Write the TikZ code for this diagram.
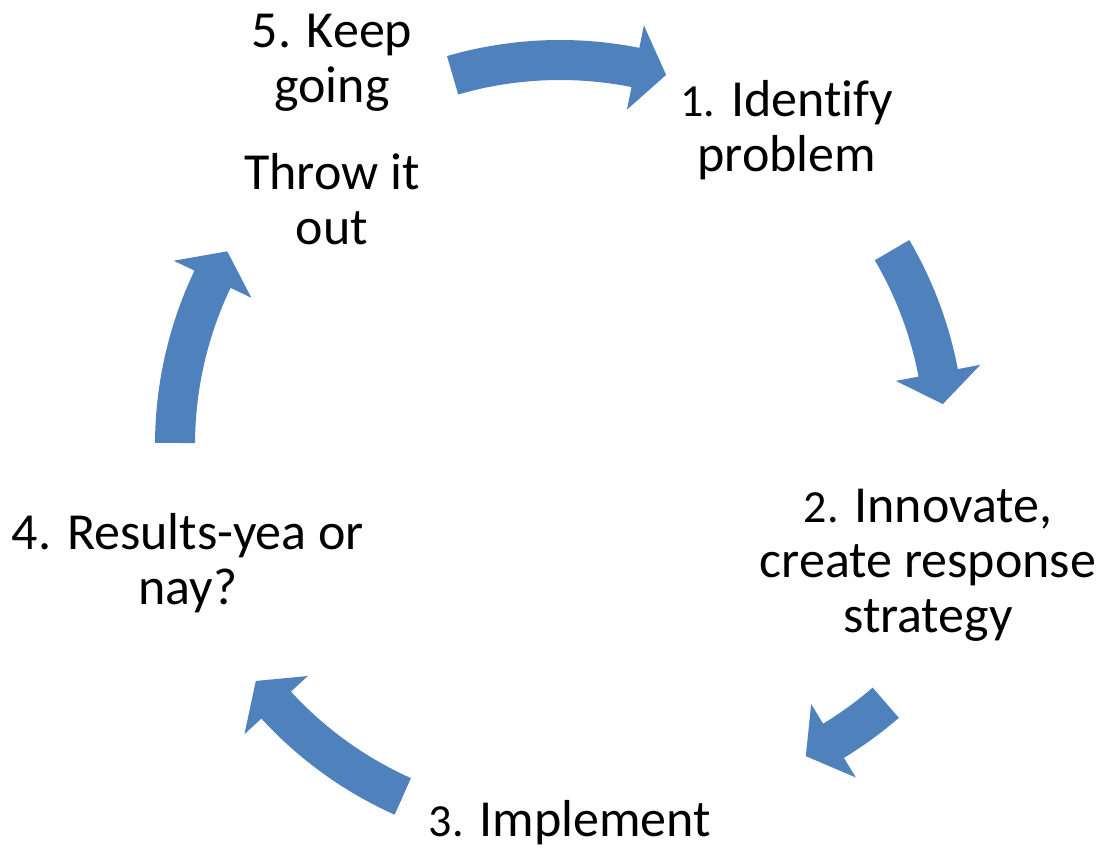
\documentclass[tikz,border=0pt]{standalone}
\usepackage{fontspec}
\setmainfont{Carlito}[Ligatures=NoCommon]
\usepackage{xcolor}

\definecolor{arrowblue}{HTML}{4F81BD}
\newcommand{\smallnum}[1]{{\fontsize{23}{27.5}\selectfont #1}}
\newcommand{\cyclearrow}[4]{%
  \fill[arrowfill, shift={(#1)}]
    (#3:#2+20) arc[start angle=#3, end angle=#4+4.7, radius=#2+20]
    -- (#4+4.7:#2+43) -- (#4:#2) -- (#4+4.7:#2-43)
    -- (#4+4.7:#2-20) arc[start angle=#4+4.7, end angle=#3, radius=#2-20]
    -- cycle;}

\begin{document}
\begin{tikzpicture}[x=0.5pt, y=0.5pt,
  steptext/.style={font=\fontsize{26}{27.5}\selectfont, align=center, inner sep=0pt, anchor=base},
  arrowfill/.style={fill=arrowblue}]

\useasboundingbox (0,0) rectangle (1105,849);

\cyclearrow{560,404}{385}{106.2}{74.0}
\cyclearrow{560,404}{385}{30.4}{6.1}
\cyclearrow{633,438}{386}{-49.1}{-63.4}
\cyclearrow{560,404}{385}{-114.1}{-142.2}
\cyclearrow{560,404}{385}{179.7}{149.8}

\node[steptext] (keep) at (332,604) {5. Keep\\going\\[16pt]Throw it\\out};
\node[steptext] (identify) at (787,677) {\smallnum{1.} Identify\\problem};
\node[steptext] (innovate) at (928,216) {\smallnum{2.} Innovate,\\create response\\strategy};
\node[steptext] (implement) at (570,12) {\smallnum{3.} Implement};
\node[steptext] (results) at (188,244) {4. Results-yea or\\nay?};

\end{tikzpicture}
\end{document}
